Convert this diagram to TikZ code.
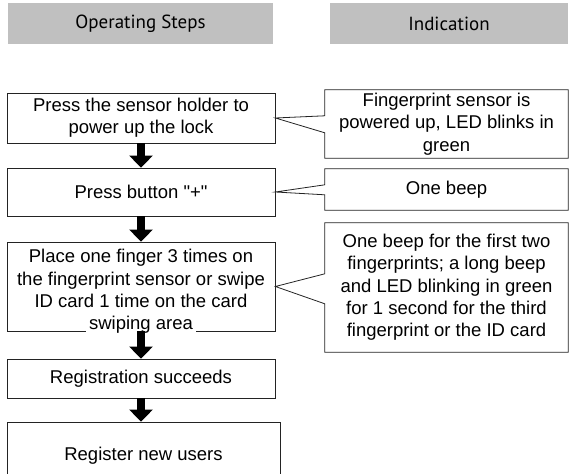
\documentclass[tikz,border=0pt]{standalone}
\usepackage{fontspec}
\setmainfont{Liberation Sans}[Ligatures=TeXOff]
\newfontfamily\headfont{PT Sans}
\usetikzlibrary{arrows.meta,calc}
\definecolor{headgray}{RGB}{192,192,192}
\definecolor{edgegray}{RGB}{35,35,35}
\newcommand\bodyfont{\fontsize{18.5}{22.3}\selectfont}
\tikzset{
  headbox/.style={fill=headgray, inner sep=0pt, font=\headfont\fontsize{19}{22}\selectfont},
  stepbox/.style={draw=edgegray, line width=0.8pt, fill=white, inner sep=0pt,
                  align=center, font=\bodyfont},
  callbox/.style={inner sep=0pt, align=center, font=\bodyfont},
  outline/.style={draw=edgegray, line width=0.8pt, line join=miter},
  bigarrow/.style={line width=7.5pt, -{Triangle[length=12pt,width=23pt]}},
}
\begin{document}
\begin{tikzpicture}[x=1pt,y=-1pt]
\useasboundingbox (0,0) rectangle (569,473);
\clip (0,0) rectangle (569,473);

% column headers
\node[headbox, minimum width=265, minimum height=41] (hsteps) at (140.5,23.5) {Operating Steps};
\node[headbox, minimum width=238, minimum height=41] (hind) at (449,23.5) {Indication};

% operating steps
\node[stepbox, minimum width=268, minimum height=50] (b1) at (141,118)
  {Press the sensor holder to\\power up the lock};
\node[stepbox, minimum width=268, minimum height=48] (b2) at (141,192)
  {Press button "+"};
\node[stepbox, minimum width=268, minimum height=89] (b3) at (141,286.5) {};
% the last line sits on the lower edge and breaks it
\node[callbox] (b3text) at (141,293)
  {Place one finger 3 times on\\the fingerprint sensor or swipe\\ID card 1 time on the card\\{\fboxsep=3pt\colorbox{white}{swiping area}}};
\node[stepbox, minimum width=268, minimum height=39] (b4) at (141,378.5)
  {Registration succeeds};
\node[stepbox, minimum width=273, minimum height=68] (b5) at (143.5,456)
  {Register new users};

% arrows between steps
\draw[bigarrow] (b1.south) -- (b1.south |- b2.north);
\draw[bigarrow] (b2.south) -- (b2.south |- b3.north);
\draw[bigarrow] (b3.south) -- (b3.south |- b4.north);
\draw[bigarrow] (b4.south) -- (b4.south |- b5.north);

% indication callouts
\node[callbox, minimum width=243, minimum height=68] (c1) at (446.5,124)
  {Fingerprint sensor is\\powered up, LED blinks in\\green};
\node[callbox, minimum width=243, minimum height=41] (c2) at (446.5,189.5)
  {One beep};
\node[callbox, minimum width=243, minimum height=129] (c3) at (446.5,287.5)
  {One beep for the first two\\fingerprints; a long beep\\and LED blinking in green\\for 1 second for the third\\fingerprint or the ID card};

\draw[outline] (c1.north west) -- (c1.north east) -- (c1.south east) -- (c1.south west)
  -- ($(c1.north west)+(0,43)$) -- (b1.east) -- ($(c1.north west)+(0,26)$) -- cycle;
\draw[outline] (c2.north west) -- (c2.north east) -- (c2.south east) -- (c2.south west)
  -- ($(c2.north west)+(0,26)$) -- (b2.east) -- ($(c2.north west)+(0,16)$) -- cycle;
\draw[outline] (c3.north west) -- (c3.north east) -- (c3.south east) -- (c3.south west)
  -- ($(c3.north west)+(0,81)$) -- (b3.east) -- ($(c3.north west)+(0,51)$) -- cycle;
\end{tikzpicture}
\end{document}
